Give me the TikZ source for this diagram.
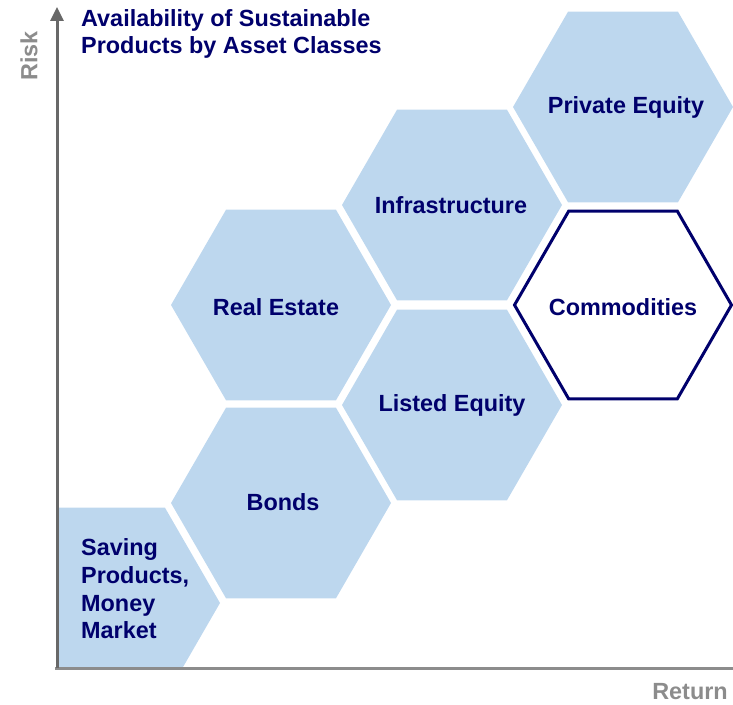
\documentclass[tikz,border=0pt]{standalone}
\usepackage{fontspec}
\setmainfont{Liberation Sans}
\usetikzlibrary{arrows.meta}
\definecolor{navy}{HTML}{00006C}
\definecolor{hexblue}{HTML}{BDD7EE}
\definecolor{axisdark}{HTML}{686868}
\definecolor{axislight}{HTML}{8C8C8C}
\tikzset{
    lbl/.style={text=navy,font=\fontsize{23.4}{27.6}\selectfont\bfseries,align=center,inner sep=0pt},
    axislbl/.style={text=axislight,font=\fontsize{23.4}{27.6}\selectfont\bfseries,inner sep=0pt},
    axisline/.style={line width=3pt,-{Triangle[length=14pt,width=13pt]}}
}
\begin{document}
\begin{tikzpicture}[x=1pt,y=1pt]
        \useasboundingbox (0,0) rectangle (733,704);
        \foreach \x/\y in {623/597,452/499,281/399,452/299,281/201}{
            \fill [hexblue] (\x+110,\y) -- ++(120:110) -- ++(180:110) -- ++(240:110) -- ++(300:110) -- ++(0:110) -- cycle;
        }
        \begin{scope}
            \clip (57,37) rectangle (733,704);
            \fill [hexblue] (220,101) -- ++(120:110) -- ++(180:110) -- ++(240:110) -- ++(300:110) -- ++(0:110) -- cycle;
        \end{scope}
        \draw [navy,line width=3pt,line join=miter] (731.5,399) -- ++(120:108.5) -- ++(180:108.5) -- ++(240:108.5) -- ++(300:108.5) -- ++(0:108.5) -- cycle;
        \node (pe) at (626,597) [lbl] {Private Equity};
        \node (infra) at (451,499) [lbl] {Infrastructure};
        \node (comm) at (623,397) [lbl] {Commodities};
        \node (re) at (276,397) [lbl] {Real Estate};
        \node (le) at (452,299) [lbl] {Listed Equity};
        \node (bonds) at (283,202) [lbl] {Bonds};
        \node (saving) at (81,115) [lbl,anchor=west,align=left] {Saving\\Products,\\Money\\Market};
        \node (title) at (81,670) [lbl,anchor=west,align=left] {Availability of Sustainable\\Products by Asset Classes};
        \coordinate (origin) at (57,36);
        \coordinate (risktop) at (57,697);
        \coordinate (returnend) at (747,36);
        \draw [axislight,axisline] ([xshift=-2pt]origin) -- (returnend);
        \draw [axisdark,axisline] (origin) -- (risktop);
        \node (risk) at (29,648) [axislbl,rotate=90] {Risk};
        \node (return) at (690,12) [axislbl] {Return};
\end{tikzpicture}
\end{document}
